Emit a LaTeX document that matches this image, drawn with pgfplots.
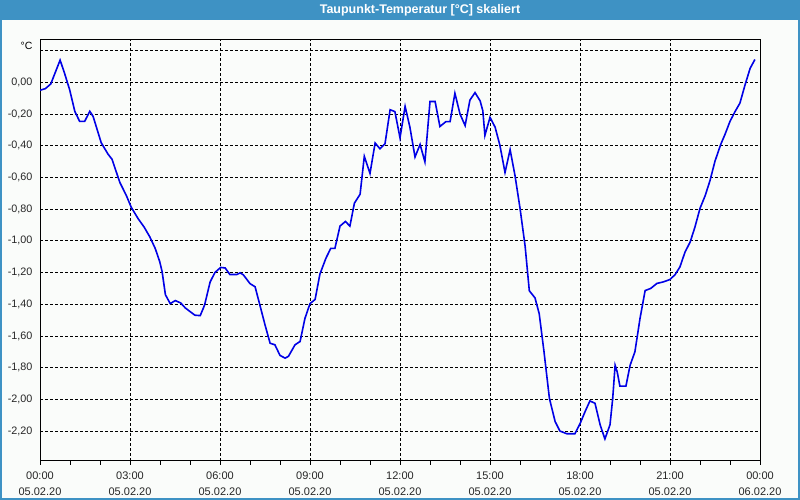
\documentclass[border=0pt]{standalone}
\usepackage{fontspec}
\setmainfont{Liberation Sans}
\usepackage{pgfplots}
\pgfplotsset{compat=1.18}
\definecolor{barblue}{RGB}{62,146,196}
\definecolor{bgc}{RGB}{250,252,250}
\definecolor{lineblue}{RGB}{0,0,230}
\begin{document}
\begin{tikzpicture}[x=1bp,y=1bp]
\fill[bgc] (0,0) rectangle (800,500);
\fill[barblue] (0,480) rectangle (800,500);
\draw[barblue,line width=2bp] (1,480) -- (1,1) -- (799,1) -- (799,480);
\node[text=white,font=\fontsize{12.5bp}{14bp}\selectfont\bfseries] at (420,489.5) {Taupunkt-Temperatur [°C] skaliert};
\node[anchor=east,font=\fontsize{10.5bp}{12bp}\selectfont] at (36,454) {°C};
\begin{axis}[
  at={(40bp,39bp)}, anchor=south west, scale only axis,
  width=720bp, height=421bp,
  xmin=0, xmax=24, ymin=-2.389, ymax=0.267,
  axis line style={black, line width=1bp},
  xtick={0,3,6,9,12,15,18,21,24},
  xticklabels={{00:00\\05.02.20},{03:00\\05.02.20},{06:00\\05.02.20},{09:00\\05.02.20},{12:00\\05.02.20},{15:00\\05.02.20},{18:00\\05.02.20},{21:00\\05.02.20},{00:00\\06.02.20}},
  minor x tick num=2,
  xtick pos=bottom, tick align=outside,
  major tick length=4bp, minor tick length=4bp,
  x tick style={black, line width=0.8bp},
  x tick label style={align=center, font=\fontsize{11bp}{16bp}\selectfont, text=black!85, yshift=-3bp},
  ytick={-2.2,-2.0,-1.8,-1.6,-1.4,-1.2,-1.0,-0.8,-0.6,-0.4,-0.2,0},
  ytick style={draw=none},
  y tick label style={font=\fontsize{10.8bp}{12bp}\selectfont, text=black!85, /pgf/number format/.cd, fixed, fixed zerofill, precision=2, use comma, assume math mode=true},
  extra y ticks={0.2}, extra y tick labels={},
  extra y tick style={grid=major, ytick style={draw=none}},
  grid=major,
  major grid style={black, line width=0.8bp, dash pattern=on 3bp off 2bp},
]
\addplot[lineblue, line width=1.6bp] coordinates {
(0.00,-0.05) (0.18,-0.04) (0.36,-0.01) (0.67,0.14) (0.82,0.056) (0.99,-0.048)
(1.16,-0.183) (1.32,-0.246) (1.49,-0.246) (1.66,-0.183) (1.77,-0.215) (2.04,-0.381)
(2.27,-0.454) (2.40,-0.485) (2.66,-0.631) (2.88,-0.715) (3.04,-0.788) (3.27,-0.86)
(3.47,-0.913) (3.66,-0.975) (3.84,-1.048) (3.99,-1.131) (4.07,-1.194) (4.18,-1.34)
(4.34,-1.396) (4.51,-1.377) (4.69,-1.392) (4.84,-1.423) (5.16,-1.469) (5.34,-1.472)
(5.44,-1.427) (5.49,-1.402) (5.67,-1.26) (5.83,-1.20) (6.02,-1.168) (6.17,-1.171)
(6.33,-1.2125) (6.56,-1.2125) (6.67,-1.202) (6.78,-1.215) (7.00,-1.27) (7.17,-1.29)
(7.33,-1.406) (7.50,-1.53) (7.67,-1.646) (7.83,-1.656) (8.00,-1.723) (8.17,-1.74)
(8.28,-1.729) (8.50,-1.656) (8.67,-1.635) (8.83,-1.49) (9.00,-1.396) (9.17,-1.37)
(9.33,-1.21) (9.53,-1.11) (9.69,-1.048) (9.83,-1.048) (10.00,-0.907) (10.18,-0.878)
(10.33,-0.907) (10.48,-0.7625) (10.67,-0.706) (10.81,-0.467) (11.00,-0.575) (11.17,-0.383)
(11.33,-0.419) (11.50,-0.3875) (11.67,-0.173) (11.83,-0.185) (12.00,-0.35) (12.17,-0.152)
(12.33,-0.283) (12.50,-0.471) (12.67,-0.392) (12.83,-0.502) (13.00,-0.121) (13.17,-0.121)
(13.33,-0.279) (13.53,-0.248) (13.67,-0.248) (13.83,-0.069) (14.00,-0.2) (14.17,-0.273)
(14.33,-0.1125) (14.50,-0.065) (14.67,-0.117) (14.76,-0.179) (14.83,-0.335) (15.00,-0.221)
(15.17,-0.283) (15.33,-0.398) (15.50,-0.569) (15.67,-0.425) (15.83,-0.585) (16.00,-0.794)
(16.17,-1.033) (16.31,-1.315) (16.50,-1.36) (16.64,-1.46) (16.80,-1.70) (16.98,-1.994)
(17.17,-2.14) (17.33,-2.2) (17.56,-2.217) (17.83,-2.217) (18.00,-2.154) (18.17,-2.077)
(18.33,-2.01) (18.50,-2.025) (18.67,-2.16) (18.83,-2.25) (19.00,-2.16) (19.09,-1.994)
(19.17,-1.785) (19.24,-1.827) (19.33,-1.917) (19.53,-1.917) (19.67,-1.785) (19.83,-1.70)
(20.00,-1.49) (20.17,-1.314) (20.36,-1.30) (20.56,-1.269) (20.78,-1.259) (21.00,-1.244)
(21.17,-1.213) (21.33,-1.165) (21.50,-1.071) (21.67,-1.008) (21.83,-0.914) (22.00,-0.795)
(22.17,-0.716) (22.33,-0.622) (22.50,-0.497) (22.69,-0.392) (22.83,-0.33) (23.00,-0.246)
(23.17,-0.184) (23.33,-0.1315) (23.50,-0.017) (23.67,0.088) (23.83,0.144)
};
\end{axis}
\pgfresetboundingbox
\path[use as bounding box] (0,0) rectangle (800,500);
\end{tikzpicture}
\end{document}
